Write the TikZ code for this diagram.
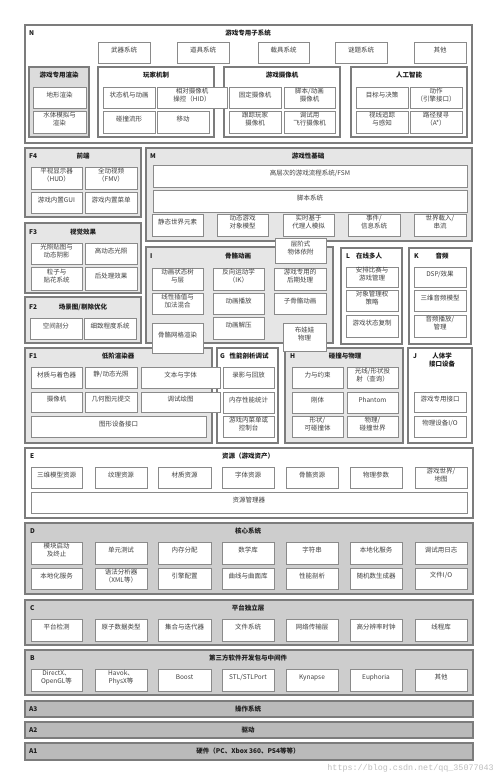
\documentclass[tikz,border=0pt]{standalone}
\usepackage{fontspec}
\setmainfont{Noto Sans CJK SC}
\newfontfamily\wmfont{Liberation Mono}
\usetikzlibrary{fit}
\definecolor{obord}{HTML}{7C7C7C}
\definecolor{ibord}{HTML}{8A8A8A}
\definecolor{fa}{HTML}{E6E6E6}
\definecolor{fr}{HTML}{DCDCDC}
\definecolor{fb}{HTML}{CDCDCD}
\definecolor{fc}{HTML}{BABABA}
\definecolor{itxt}{HTML}{404040}
\definecolor{ttxt}{HTML}{1E1E1E}
\tikzset{
  ob/.style={draw=obord,line width=1.1pt,fill=white,inner sep=0pt},
  ib/.style={draw=ibord,line width=0.8pt,fill=white,inner sep=0pt,align=center,
    text=itxt,font=\fontsize{6.5}{7.8}\selectfont},
  ttl/.style={text=ttxt,font=\bfseries\fontsize{6.5}{7.8}\selectfont,align=center,inner sep=0pt},
  lbl/.style={text=ttxt,font=\bfseries\fontsize{6.5}{7.8}\selectfont,anchor=west,inner sep=0pt}
}
\newcommand\bx[7][]{\node[ib,#1,fit={(#3,#4)(#5,#6)}] (#2) {#7};}
\newcommand\ox[6][]{\node[ob,#1,fit={(#3,#4)(#5,#6)}] (#2) {};}
\begin{document}
\begin{tikzpicture}[x=1pt,y=-1pt]
\useasboundingbox[fill=white] (0,0) rectangle (500,777);
% ---------- outer boxes ----------
\ox{N}{25}{25}{472}{143}
\ox[fill=fr]{Nr}{29}{67}{89}{137}
\ox{Nw}{98}{67}{214}{137}
\ox{Nc}{224}{67}{340}{137}
\ox{Na}{351}{67}{467}{137}
\ox[fill=fa]{F4}{25}{148}{141}{217}
\ox[fill=fa]{M}{146}{148}{472}{241}
\ox[fill=fa]{F3}{25}{223}{141}{293}
\ox[fill=fa]{F2}{25}{297}{141}{343}
\ox[fill=fa]{I}{146}{247}{333}{343}
\ox{L}{341}{248}{402}{344}
\ox{K}{409}{248}{471}{344}
\ox[fill=fa]{F1}{25}{348}{212}{443}
\ox{G}{217}{348}{278}{443}
\ox[fill=fa]{H}{285}{348}{403}{443}
\ox{J}{408}{348}{472}{443}
\ox{E}{25}{448}{473}{518}
\ox[fill=fb]{D}{25}{523}{473}{594}
\ox[fill=fb]{C}{25}{600}{473}{645}
\ox[fill=fb]{B}{25}{650}{473}{695}
\ox[fill=fc]{A3}{25}{701}{473}{717}
\ox[fill=fc]{A2}{25}{722}{473}{738}
\ox[fill=fc]{A1}{25}{743}{473}{760}
% ---------- labels and titles ----------
\node[lbl] (lN) at (29,33) {N};
\node[ttl] (tN) at (248,33) {游戏专用子系统};
\node[ttl] (tNr) at (59,75) {游戏专用渲染};
\node[ttl] (tNw) at (156,75) {玩家机制};
\node[ttl] (tNc) at (282,75) {游戏摄像机};
\node[ttl] (tNa) at (409,75) {人工智能};
\node[lbl] (lF4) at (29,156) {F4};
\node[ttl] (tF4) at (83,156) {前端};
\node[lbl] (lM) at (150,156) {M};
\node[ttl] (tM) at (308,156) {游戏性基础};
\node[lbl] (lF3) at (29,232) {F3};
\node[ttl] (tF3) at (83,232) {视觉效果};
\node[lbl] (lF2) at (29,307) {F2};
\node[ttl] (tF2) at (83,307) {场景图/剔除优化};
\node[lbl] (lI) at (150,256) {I};
\node[ttl] (tI) at (238,256) {骨骼动画};
\node[lbl] (lL) at (346,256) {L};
\node[ttl] (tL) at (369,256) {在线多人};
\node[lbl] (lK) at (414,256) {K};
\node[ttl] (tK) at (442,256) {音频};
\node[lbl] (lF1) at (29,356) {F1};
\node[ttl] (tF1) at (118,356) {低阶渲染器};
\node[lbl] (lG) at (220,356) {G};
\node[ttl] (tG) at (249,356) {性能剖析调试};
\node[lbl] (lH) at (290,356) {H};
\node[ttl] (tH) at (345,356) {碰撞与物理};
\node[lbl] (lJ) at (413,356) {J};
\node[ttl] (tJ) at (442,360) {人体学\\接口设备};
\node[lbl] (lE) at (30,456) {E};
\node[ttl] (tE) at (248,456) {资源（游戏资产）};
\node[lbl] (lD) at (30,531) {D};
\node[ttl] (tD) at (248,531) {核心系统};
\node[lbl] (lC) at (30,608) {C};
\node[ttl] (tC) at (248,608) {平台独立层};
\node[lbl] (lB) at (30,658) {B};
\node[ttl] (tB) at (248,658) {第三方软件开发包与中间件};
\node[lbl] (lA3) at (29,709) {A3};
\node[ttl] (tA3) at (248,709) {操作系统};
\node[lbl] (lA2) at (29,730) {A2};
\node[ttl] (tA2) at (248,730) {驱动};
\node[lbl] (lA1) at (29,751.5) {A1};
\node[ttl] (tA1) at (248,751.5) {硬件（PC、Xbox 360、PS4等等）};
% ---------- N ----------
\bx{n1}{98}{42}{150}{63}{武器系统}
\bx{n2}{177}{42}{229}{63}{道具系统}
\bx{n3}{258}{42}{309}{63}{载具系统}
\bx{n4}{335}{42}{387}{63}{谜题系统}
\bx{n5}{414}{42}{466}{63}{其他}
\bx{r1}{33}{87}{86}{108}{地形渲染}
\bx{r2}{33}{111}{86}{133}{水体模拟与\\渲染}
\bx{w1}{103}{87}{155}{108}{状态机与动画}
\bx{w2}{157}{87}{227}{108}{相对摄像机\\操控（HID）}
\bx{w3}{103}{111}{155}{133}{碰撞流形}
\bx{w4}{157}{111}{209}{133}{移动}
\bx{c1}{229}{87}{281}{108}{固定摄像机}
\bx{c2}{284}{87}{335}{108}{脚本/动画\\摄像机}
\bx{c3}{229}{111}{281}{133}{跟踪玩家\\摄像机}
\bx{c4}{284}{111}{335}{133}{调试用\\飞行摄像机}
\bx{a1}{356}{87}{408}{108}{目标与决策}
\bx{a2}{410}{87}{462}{108}{动作\\（引擎接口）}
\bx{a3}{356}{111}{408}{133}{视线追踪\\与感知}
\bx{a4}{410}{111}{462}{133}{路径搜寻\\（A*）}
% ---------- F4 ----------
\bx{f41}{31}{167}{82}{189}{平视显示器\\（HUD）}
\bx{f42}{85}{167}{137}{189}{全动视频\\（FMV）}
\bx{f43}{31}{192}{82}{213}{游戏内置GUI}
\bx{f44}{85}{192}{137}{213}{游戏内置菜单}
% ---------- M ----------
\bx{m1}{153}{165}{467}{187}{高层次的游戏流程系统/FSM}
\bx{m2}{153}{190}{467}{212}{脚本系统}
\bx{m3}{152}{214}{203}{236}{静态世界元素}
\bx{m4}{217}{214}{268}{236}{动态游戏\\对象模型}
\bx{m5}{283}{214}{334}{236}{实时基于\\代理人模拟}
\bx{m6}{348}{214}{400}{236}{事件/\\信息系统}
\bx{m7}{414}{214}{466}{236}{世界载入/\\串流}
% ---------- F3 ----------
\bx{f31}{31}{243}{82}{264}{光照贴图与\\动态阴影}
\bx{f32}{85}{243}{137}{264}{高动态光照}
\bx{f33}{31}{267}{82}{290}{粒子与\\贴花系统}
\bx{f34}{85}{267}{137}{290}{后处理效果}
% ---------- F2 ----------
\bx{f21}{30}{318}{82}{339}{空间剖分}
\bx{f22}{84}{318}{136}{339}{细致程度系统}
% ---------- I ----------
\bx{i1}{152}{268}{203}{290}{动画状态树\\与层}
\bx{i2}{213}{268}{264}{290}{反向运动学\\（IK）}
\bx{i3}{274}{268}{326}{290}{游戏专用的\\后期处理}
\bx{i4}{152}{293}{203}{314}{线性插值与\\加法混合}
\bx{i5}{213}{293}{264}{314}{动画播放}
\bx{i6}{274}{293}{326}{314}{子骨骼动画}
\bx{i7}{213}{317}{264}{339}{动画解压}
\bx{i8}{152}{323}{203}{353}{骨骼网格渲染}
\bx{i9}{283}{323}{326}{351}{布娃娃\\物理}
\bx{i10}{275}{238}{326}{263}{层阶式\\物体依附}
% ---------- L ----------
\bx{l1}{346}{267}{398}{287}{安排比赛与\\游戏管理}
\bx{l2}{346}{290}{398}{311}{对象管理权\\策略}
\bx{l3}{346}{315}{398}{337}{游戏状态复制}
% ---------- K ----------
\bx{k1}{414}{267}{466}{287}{DSP/效果}
\bx{k2}{414}{290}{466}{311}{三维音频模型}
\bx{k3}{414}{315}{466}{337}{音频播放/\\管理}
% ---------- F1 ----------
\bx{f11}{31}{367}{82}{388}{材质与着色器}
\bx{f12}{85}{367}{137}{388}{静/动态光照}
\bx{f13}{141}{367}{220}{388}{文本与字体}
\bx{f14}{31}{392}{82}{412}{摄像机}
\bx{f15}{85}{392}{137}{412}{几何图元提交}
\bx{f16}{141}{392}{220}{412}{调试绘图}
\bx{f17}{31}{416}{206}{437}{图形设备接口}
% ---------- G ----------
\bx{g1}{223}{367}{274}{388}{录影与回放}
\bx{g2}{223}{392}{274}{413}{内存性能统计}
\bx{g3}{223}{416}{274}{437}{游戏内菜单或\\控制台}
% ---------- H ----------
\bx{h1}{292}{367}{343}{388}{力与约束}
\bx{h2}{347}{367}{398}{388}{光线/形状投\\射（查询）}
\bx{h3}{292}{392}{343}{413}{刚体}
\bx{h4}{347}{392}{398}{413}{Phantom}
\bx{h5}{292}{416}{343}{437}{形状/\\可碰撞体}
\bx{h6}{347}{416}{398}{437}{物理/\\碰撞世界}
% ---------- J ----------
\bx{j1}{414}{392}{466}{412}{游戏专用接口}
\bx{j2}{414}{416}{466}{437}{物理设备I/O}
% ---------- E ----------
\bx{e1}{31}{467}{82}{488}{三维模型资源}
\bx{e2}{95}{467}{147}{488}{纹理资源}
\bx{e3}{158}{467}{211}{488}{材质资源}
\bx{e4}{222}{467}{274}{488}{字体资源}
\bx{e5}{286}{467}{338}{488}{骨骼资源}
\bx{e6}{350}{467}{402}{488}{物理参数}
\bx{e7}{415}{467}{467}{488}{游戏世界/\\地图}
\bx{e8}{31}{492}{467}{513}{资源管理器}
% ---------- D ----------
\bx{d1}{31}{542}{82}{564}{模块启动\\及终止}
\bx{d2}{95}{542}{147}{564}{单元测试}
\bx{d3}{158}{542}{211}{564}{内存分配}
\bx{d4}{222}{542}{274}{564}{数学库}
\bx{d5}{286}{542}{338}{564}{字符串}
\bx{d6}{350}{542}{402}{564}{本地化服务}
\bx{d7}{415}{542}{467}{564}{调试用日志}
\bx{d8}{31}{568}{82}{589}{本地化服务}
\bx{d9}{95}{568}{147}{589}{语法分析器\\（XML等）}
\bx{d10}{158}{568}{211}{589}{引擎配置}
\bx{d11}{222}{568}{274}{589}{曲线与曲面库}
\bx{d12}{286}{568}{338}{589}{性能剖析}
\bx{d13}{350}{568}{402}{589}{随机数生成器}
\bx{d14}{415}{568}{467}{589}{文件I/O}
% ---------- C ----------
\bx{c01}{31}{619}{82}{641}{平台检测}
\bx{c02}{95}{619}{147}{641}{原子数据类型}
\bx{c03}{158}{619}{211}{641}{集合与迭代器}
\bx{c04}{222}{619}{274}{641}{文件系统}
\bx{c05}{286}{619}{338}{641}{网络传输层}
\bx{c06}{350}{619}{402}{641}{高分辨率时钟}
\bx{c07}{415}{619}{467}{641}{线程库}
% ---------- B ----------
\bx{b1}{31}{669}{82}{691}{DirectX、\\OpenGL等}
\bx{b2}{95}{669}{147}{691}{Havok、\\PhysX等}
\bx{b3}{158}{669}{211}{691}{Boost}
\bx{b4}{222}{669}{274}{691}{STL/STLPort}
\bx{b5}{286}{669}{338}{691}{Kynapse}
\bx{b6}{350}{669}{402}{691}{Euphoria}
\bx{b7}{415}{669}{467}{691}{其他}
% ---------- watermark ----------
\node[anchor=east,inner sep=0pt,text=black!25,font=\wmfont\fontsize{8.4}{9}\selectfont] (wm) at (494,768) {https://blog.csdn.net/qq\_35077043};
\end{tikzpicture}
\end{document}
